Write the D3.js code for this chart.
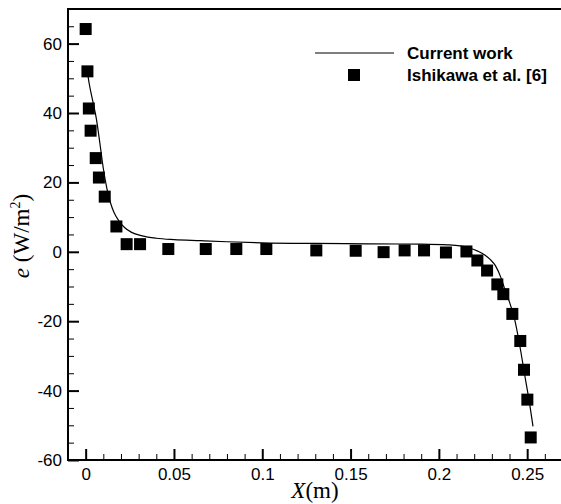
<!DOCTYPE html>
<html>
<head>
<meta charset="utf-8">
<script src="https://cdn.jsdelivr.net/npm/d3@7"></script>
<style>
  body { margin: 0; background: #fff; overflow: hidden; }
  svg { display: block; }
  .tick text { font-family: "Liberation Sans", Arial, sans-serif; font-size: 17px; fill: #000; }
  .legend text { font-family: "Liberation Sans", Arial, sans-serif; font-size: 17px; font-weight: bold; }
  .title { font-family: "Liberation Serif", "Times New Roman", serif; font-size: 23px; }
</style>
</head>
<body>
<div id="chart"></div>
<script>
// Ishikawa et al. [6] points
var refX = [0, 0.001, 0.0018, 0.0028, 0.0057, 0.0075, 0.0108, 0.0174, 0.0232, 0.0308,
  0.0468, 0.068, 0.0853, 0.1023, 0.1306, 0.1529, 0.1687, 0.1806, 0.1916, 0.204,
  0.2156, 0.2218, 0.2273, 0.2331, 0.2365, 0.2416, 0.2461, 0.2482, 0.2501, 0.252];
var refE = [64.2, 52, 41.3, 34.9, 27, 21.4, 15.9, 7.3, 2.2, 2.2,
  0.8, 0.8, 0.8, 0.8, 0.4, 0.3, -0.1, 0.4, 0.4, -0.2,
  0.1, -2.5, -5.4, -9.4, -12.2, -17.9, -25.7, -34, -42.6, -53.5];

// current work curve
var curX = [0.0005, 0.002, 0.004, 0.006, 0.008, 0.010, 0.012, 0.014, 0.016, 0.019,
  0.022, 0.026, 0.032, 0.040, 0.050, 0.065, 0.080, 0.100, 0.130, 0.160,
  0.190, 0.205, 0.212, 0.217, 0.222, 0.226, 0.229, 0.232, 0.2354, 0.238,
  0.240, 0.2429, 0.2458, 0.2486, 0.2514, 0.2533];
var curE = [53.5, 48.5, 43.5, 38.5, 31.5, 24, 18.3, 14.2, 11.4, 8.8,
  7.0, 5.6, 4.6, 3.9, 3.5, 3.2, 2.9, 2.6, 2.4, 2.3,
  2.2, 2.0, 1.7, 1.1, 0.2, -0.9, -2.2, -4.0, -7.8, -11.9,
  -14.5, -19.5, -27, -35.5, -43.8, -50.3];

var xMajor = [0, 0.05, 0.1, 0.15, 0.2, 0.25];
var xLabels = ["0", "0.05", "0.1", "0.15", "0.2", "0.25"];
var yMajor = [-60, -40, -20, 0, 20, 40, 60];

var svgWidth = 561;
var svgHeight = 504;

var svg = d3.select("#chart")
  .append("svg")
  .attr("width", svgWidth)
  .attr("height", svgHeight);

// plot box runs past the right edge of the picture
var x = d3.scaleLinear().domain([-0.01, 0.27]).range([68, 562.5]);
var y = d3.scaleLinear().domain([-60, 70]).range([460, 8.9]);

var xMinor = d3.range(0, 27).map(i => i / 100).filter(v => Math.round(v * 100) % 5 !== 0);
var yMinor = d3.range(-55, 70, 5).filter(v => v % 20 !== 0);

// minor ticks
svg.append("g")
  .attr("transform", `translate(0, ${y(-60)})`)
  .call(d3.axisBottom(x).tickValues(xMinor).tickSizeInner(-6).tickSizeOuter(0).tickFormat(""))
  .call(g => g.select(".domain").remove());
svg.append("g")
  .attr("transform", `translate(${x(-0.01)}, 0)`)
  .call(d3.axisLeft(y).tickValues(yMinor).tickSizeInner(-6).tickSizeOuter(0).tickFormat(""))
  .call(g => g.select(".domain").remove());

// major ticks + labels
var xAxis = svg.append("g")
  .attr("transform", `translate(0, ${y(-60)})`)
  .call(d3.axisBottom(x).tickValues(xMajor).tickSizeInner(-11).tickSizeOuter(0)
    .tickPadding(8).tickFormat((d, i) => xLabels[i]));
xAxis.select(".domain").remove();
xAxis.selectAll(".tick line").attr("stroke-width", 2);
xAxis.selectAll(".tick text").attr("dy", "0.71em").attr("y", 8);

var yAxis = svg.append("g")
  .attr("transform", `translate(${x(-0.01)}, 0)`)
  .call(d3.axisLeft(y).tickValues(yMajor).tickSizeInner(-11).tickSizeOuter(0)
    .tickFormat(d => String(d)));
yAxis.select(".domain").remove();
yAxis.selectAll(".tick line").attr("stroke-width", 2);
yAxis.selectAll(".tick text").attr("x", -6);

svg.selectAll(".tick line").attr("stroke", "#000");

// frame: left, top, bottom (right side lies outside the picture)
var frame = [[0.3, 70], [-0.01, 70], [-0.01, -60], [0.3, -60]];
svg.append("path")
  .datum(frame)
  .attr("fill", "none")
  .attr("stroke", "#000")
  .attr("stroke-width", 2)
  .attr("d", d3.line().x(d => x(d[0])).y(d => y(d[1])));

// current work line
var curve = curX.map((v, i) => [v, curE[i]]);
svg.append("path")
  .datum(curve)
  .attr("fill", "none")
  .attr("stroke", "#000")
  .attr("stroke-width", 1.2)
  .attr("d", d3.line().x(d => x(d[0])).y(d => y(d[1])).curve(d3.curveMonotoneX));

// reference squares
var sq = 12;
svg.append("g")
  .selectAll("rect")
  .data(refX.map((v, i) => [v, refE[i]]))
  .enter()
  .append("rect")
  .attr("x", d => x(d[0]) - sq / 2)
  .attr("y", d => y(d[1]) - sq / 2)
  .attr("width", sq)
  .attr("height", sq)
  .attr("fill", "#000");

// legend
var legend = svg.append("g").attr("class", "legend");
legend.append("line")
  .attr("x1", 315).attr("x2", 394)
  .attr("y1", 53).attr("y2", 53)
  .attr("stroke", "#000").attr("stroke-width", 1.2);
legend.append("rect")
  .attr("x", 354 - sq / 2).attr("y", 75 - sq / 2)
  .attr("width", sq).attr("height", sq)
  .attr("fill", "#000");
legend.append("text").attr("x", 407).attr("y", 59).text("Current work");
legend.append("text").attr("x", 407).attr("y", 81).text("Ishikawa et al. [6]");

// axis titles
var xt = svg.append("text")
  .attr("class", "title")
  .attr("x", 315).attr("y", 498)
  .attr("text-anchor", "middle");
xt.append("tspan").style("font-style", "italic").text("X");
xt.append("tspan").text("(m)");

var yt = svg.append("text")
  .attr("class", "title")
  .attr("transform", "translate(29, 236) rotate(-90)")
  .attr("text-anchor", "middle");
yt.append("tspan").style("font-style", "italic").text("e");
yt.append("tspan").text(" (W/m");
yt.append("tspan").attr("dy", -9).style("font-size", "14px").text("2");
yt.append("tspan").attr("dy", 9).text(")");
</script>
</body>
</html>
